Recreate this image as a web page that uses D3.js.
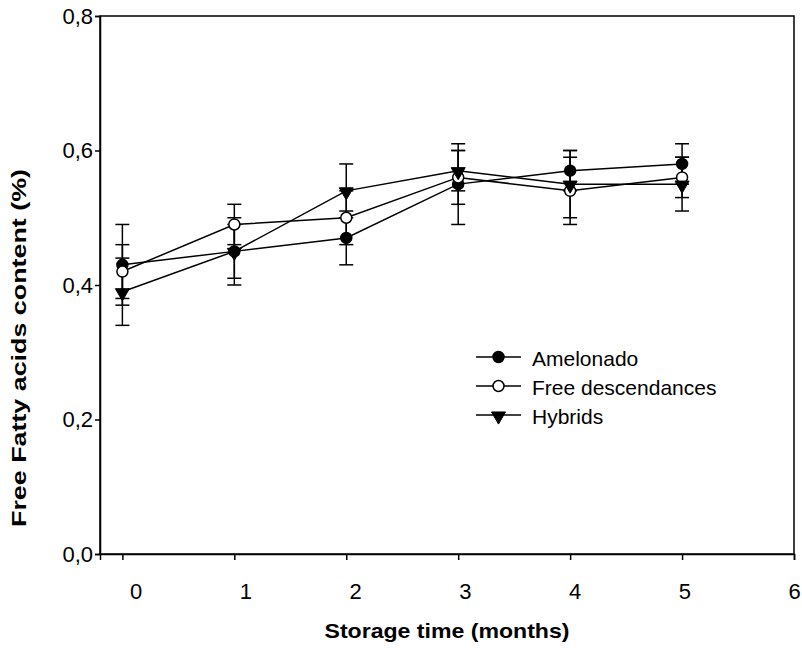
<!DOCTYPE html>
<html>
<head>
<meta charset="utf-8">
<script src="https://cdn.jsdelivr.net/npm/d3@7"></script>
<style>
  body { margin: 0; background: #fff; }
  text { font-family: Arial, "Liberation Sans", sans-serif; fill: #000; }
</style>
</head>
<body>
<div class="contain"></div>
<script>
// data
const months = [0, 1, 2, 3, 4, 5];
const amelonado = [0.43, 0.45, 0.47, 0.55, 0.57, 0.58];
const amelonadoErr = [0.06, 0.05, 0.04, 0.06, 0.03, 0.03];
const freeDesc = [0.42, 0.49, 0.50, 0.56, 0.54, 0.56];
const freeDescErr = [0.04, 0.03, 0.04, 0.04, 0.05, 0.03];
const hybrids = [0.39, 0.45, 0.54, 0.57, 0.55, 0.55];
const hybridsErr = [0.05, 0.04, 0.04, 0.03, 0.05, 0.04];
const seriesNames = ["Amelonado", "Free descendances", "Hybrids"];
const xTicks = [0, 1, 2, 3, 4, 5, 6];
const yTicks = [0, 0.2, 0.4, 0.6, 0.8];

const svg_width = 802;
const svg_height = 651;
const plotLeft = 100, plotRight = 794, plotTop = 16, plotBottom = 554;

let svg = d3.select(".contain").append("svg")
            .attr("width", svg_width).attr("height", svg_height);

let xScale = d3.scaleLinear().domain([-0.2, 6]).range([plotLeft, plotRight]);
let yScale = d3.scaleLinear().domain([0, 0.8]).range([plotBottom, plotTop]);

const comma = d3.formatLocale({decimal: ",", thousands: ".", grouping: [3], currency: ["", ""]}).format(".1f");

// frame
svg.append("rect")
   .attr("x", plotLeft).attr("y", plotTop)
   .attr("width", plotRight - plotLeft).attr("height", plotBottom - plotTop)
   .attr("fill", "none").attr("stroke", "#000").attr("stroke-width", 1.5);

let xAxis = d3.axisBottom(xScale).tickValues(xTicks).tickSize(6).tickPadding(23)
              .tickFormat(d3.format("d"));
let gx = svg.append("g").attr("transform", `translate(0, ${plotBottom})`).call(xAxis);

let yAxis = d3.axisLeft(yScale).tickValues(yTicks).tickSize(5).tickPadding(2)
              .tickFormat(comma);
let gy = svg.append("g").attr("transform", `translate(${plotLeft}, 0)`).call(yAxis);

[gx, gy].forEach(g => {
  g.select(".domain").attr("stroke-width", 1.5);
  g.selectAll(".tick line").attr("stroke-width", 1.5);
  g.selectAll(".tick text").attr("font-size", 22).attr("font-family", "Arial, 'Liberation Sans', sans-serif");
});
// the labels of the reference sit a little right of their ticks
gx.selectAll(".tick text").attr("dx", (d) => (6 - d) * 2.2);

// titles
svg.append("text")
   .attr("x", (plotLeft + plotRight) / 2).attr("y", 638)
   .attr("text-anchor", "middle")
   .attr("font-size", 21).attr("font-weight", "bold")
   .attr("textLength", 245).attr("lengthAdjust", "spacingAndGlyphs")
   .text("Storage time (months)");

svg.append("text")
   .attr("transform", "translate(26, 348) rotate(-90)")
   .attr("text-anchor", "middle")
   .attr("font-size", 21).attr("font-weight", "bold")
   .attr("textLength", 358).attr("lengthAdjust", "spacingAndGlyphs")
   .text("Free Fatty acids content (%)");

const series = [
  {name: seriesNames[0], values: amelonado, err: amelonadoErr, marker: "circle", fill: "#000"},
  {name: seriesNames[1], values: freeDesc, err: freeDescErr, marker: "circle", fill: "#fff"},
  {name: seriesNames[2], values: hybrids, err: hybridsErr, marker: "down", fill: "#000"}
];

const tri = d3.symbol().type(d3.symbolTriangle).size(85);

function drawMarker(g, s, x, y) {
  if (s.marker === "circle") {
    g.append("circle").attr("cx", x).attr("cy", y).attr("r", 5.5)
     .attr("fill", s.fill).attr("stroke", "#000").attr("stroke-width", 1.5);
  } else {
    g.append("path").attr("d", tri())
     .attr("transform", `translate(${x}, ${y + 1}) rotate(180)`)
     .attr("fill", "#000").attr("stroke", "#000").attr("stroke-width", 1);
  }
}

let line = d3.line().x((d, i) => xScale(months[i])).y(d => yScale(d));

let plot = svg.append("g");

series.forEach(s => {
  plot.append("path").datum(s.values)
      .attr("d", line).attr("fill", "none")
      .attr("stroke", "#000").attr("stroke-width", 1.5);
});

series.forEach(s => {
  s.values.forEach((v, i) => {
    let x = xScale(months[i]);
    let y0 = yScale(v - s.err[i]), y1 = yScale(v + s.err[i]);
    plot.append("line").attr("x1", x).attr("x2", x).attr("y1", y0).attr("y2", y1)
        .attr("stroke", "#000").attr("stroke-width", 1.5);
    [y0, y1].forEach(yy => {
      plot.append("line").attr("x1", x - 7).attr("x2", x + 7).attr("y1", yy).attr("y2", yy)
          .attr("stroke", "#000").attr("stroke-width", 1.5);
    });
  });
});

series.forEach(s => {
  s.values.forEach((v, i) => drawMarker(plot, s, xScale(months[i]), yScale(v)));
});

// legend
let legend = svg.append("g").attr("transform", "translate(476, 357)");
series.forEach((s, i) => {
  let g = legend.append("g").attr("transform", `translate(0, ${i * 29})`);
  g.append("line").attr("x1", 0).attr("x2", 45).attr("y1", 0).attr("y2", 0)
   .attr("stroke", "#000").attr("stroke-width", 1.5);
  drawMarker(g, s, 22.5, 0);
  g.append("text").attr("x", 56).attr("y", 2).attr("dy", "0.35em")
   .attr("font-size", 21).text(s.name);
});
</script>
</body>
</html>
